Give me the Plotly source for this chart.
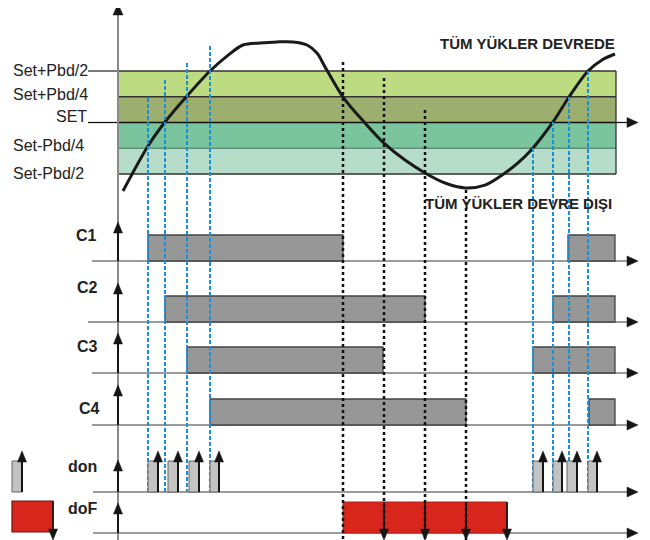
import plotly.graph_objects as go

W, H = 650, 540
OFF = 8  # page body margin: the figure is drawn 8px in from the window corner

# ---------------- data ----------------
level_labels = ["Set+Pbd/2", "Set+Pbd/4", "SET", "Set-Pbd/4", "Set-Pbd/2"]
level_values = [2, 1, 0, -1, -2]          # in Pbd/4 steps around SET

curve_time = [123, 148, 165, 187, 210, 227, 243, 260, 277, 293, 307, 317, 325, 343,
              365, 384, 405, 425, 445, 465, 485, 505, 518, 533, 553, 569, 588, 602, 615]
curve_temp = [-2.66, -0.91, 0.02, 1.03, 2.00, 2.58, 3.01, 3.09, 3.13, 3.13, 3.01, 2.70,
              2.16, 0.99, -0.02, -0.80, -1.46, -1.96, -2.35, -2.54, -2.43, -1.96, -1.57,
              -0.99, 0.02, 0.99, 2.00, 2.43, 2.66]

relay_labels = ["C1", "C2", "C3", "C4"]
c1_on, c1_off = [148, 568], [343, 615]
c2_on, c2_off = [165, 553], [425, 615]
c3_on, c3_off = [187, 533], [383, 615]
c4_on, c4_off = [210, 589], [466, 615]

don_on = [148, 168, 189, 210, 533, 553, 567, 588]
don_off = [158, 178, 199, 219, 543, 562, 577, 597]
dof_on, dof_off = [343], [507]
dof_marks = [384, 425, 466, 507]

guide_black_time = [343, 384, 425, 466]
guide_black_top = [2.35, 1.73, 0.49, -2.62]
guide_blue_time = [148, 165, 187, 210, 533, 553, 569, 588]
guide_blue_top = [0.95, 1.65, 2.31, 2.97, -0.99, 0.02, 0.99, 2.00]

title_on = "TÜM YÜKLER DEVREDE"
title_off = "TÜM YÜKLER DEVRE DIŞI"

# ---------------- layout constants ----------------
AXIS_X, END_X, ARROW_X = 118, 616, 638
SET_PX, PX_PER_UNIT = 122.5, 25.75
T_RANGE = [(SET_PX - H) / PX_PER_UNIT, (SET_PX - OFF) / PX_PER_UNIT]


def t2px(t):
    return SET_PX - t * PX_PER_UNIT


row_base = [261, 322, 373, 425]
row_start = [92, 88, 92, 92]
row_tip = [222, 283, 333, 385]
row_label_xy = [(86, 235), (87, 287), (87, 346), (89, 408)]
C_H = 26
DON_BASE, DON_H = 492, 31
DOF_BASE, DOF_H = 533, 31

band_colors = ["#bddc82", "#9caf6f", "#7ac49e", "#b5ddc9"]
level_line_colors = ["#333333", "#333333", "#111111", "#5f8f78", "#333333"]
BAR_GRAY, BAR_EDGE = "#979797", "#444444"
DON_GRAY = "#c3c3c3"
RED = "#d9261c"
BLUE = "#1a90dc"
BASE_GRAY = "#7a7a7a"
INK = "#151515"
FONT = "Liberation Sans, Arial, sans-serif"

shapes = []
annotations = []


def line(x0, y0, x1, y1, color, width, dash="solid", yref="y2", layer="above"):
    shapes.append(dict(type="line", xref="x", yref=yref, x0=x0, y0=y0, x1=x1, y1=y1,
                       layer=layer, line=dict(color=color, width=width, dash=dash)))


def rect(x0, y0, x1, y1, fill, edge, lw, yref="y2", layer="above"):
    shapes.append(dict(type="rect", xref="x", yref=yref, x0=x0, y0=y0, x1=x1, y1=y1,
                       layer=layer, fillcolor=fill, line=dict(color=edge, width=lw)))


def head(tx, ty, dx, dy, color=INK, L=11, hw=4.5):
    bx, by = tx - dx * L, ty - dy * L
    px, py = -dy, dx
    path = (f"M{tx},{ty} L{bx + px * hw},{by + py * hw} "
            f"L{bx - px * hw},{by - py * hw} Z")
    shapes.append(dict(type="path", xref="x", yref="y2", path=path, layer="above",
                       fillcolor=color, line=dict(color=color, width=0.5)))


def arrow(x0, y0, x1, y1, color=INK, width=2, L=11, hw=4.5):
    d = ((x1 - x0) ** 2 + (y1 - y0) ** 2) ** 0.5
    dx, dy = (x1 - x0) / d, (y1 - y0) / d
    line(x0, y0, x1 - dx * (L - 2), y1 - dy * (L - 2), color, width)
    head(x1, y1, dx, dy, color, L, hw)


def text(x, y, s, size, bold=False, anchor="center", family=FONT, color="#222222"):
    annotations.append(dict(x=x, y=y, xref="x", yref="y2", showarrow=False,
                            text=f"<b>{s}</b>" if bold else s, xanchor=anchor,
                            yanchor="middle", font=dict(size=size, color=color, family=family)))


# ---- temperature bands ----
for i in range(len(level_values) - 1):
    rect(AXIS_X, level_values[i], END_X, level_values[i + 1], band_colors[i],
         "rgba(0,0,0,0)", 0, yref="y", layer="below")
for v, c in zip(level_values, level_line_colors):
    line(AXIS_X, v, END_X, v, c, 1.3, yref="y", layer="below")
line(END_X, level_values[0], END_X, level_values[-1], "#333333", 1.3, yref="y", layer="below")
# label leader lines
line(88, level_values[0], AXIS_X, level_values[0], "#222222", 1.2, yref="y")
line(88, level_values[2], AXIS_X, level_values[2], "#111111", 1.3, yref="y")
# SET axis arrow
arrow(END_X, t2px(level_values[2]), ARROW_X, t2px(level_values[2]), INK, 1.3, 11, 5)

# level labels
label_y = [70, 94, 116, 145, 173]
for lab, yy in zip(level_labels, label_y):
    if lab == "SET":
        text(89, yy, lab, 16, anchor="right")
    else:
        text(11, yy, lab, 16, anchor="left")

# ---- main vertical axis ----
line(AXIS_X, H, AXIS_X, 14, "#8a8a8a", 2)
head(AXIS_X, 4, 0, -1, INK, 11, 5)

# ---- relay rows ----
relays_on = [c1_on, c2_on, c3_on, c4_on]
relays_off = [c1_off, c2_off, c3_off, c4_off]
for k in range(4):
    base = row_base[k]
    line(row_start[k], base, ARROW_X - 9, base, BASE_GRAY, 1.6)
    head(ARROW_X, base, 1, 0, INK, 11, 5)
    for a, b in zip(relays_on[k], relays_off[k]):
        rect(a, base - C_H, b, base, BAR_GRAY, BAR_EDGE, 1.3)

# don / doF baselines
line(93, DON_BASE, ARROW_X - 9, DON_BASE, BASE_GRAY, 1.6)
head(ARROW_X, DON_BASE, 1, 0, INK, 11, 5)
line(93, DOF_BASE, ARROW_X - 9, DOF_BASE, BASE_GRAY, 1.6)
head(ARROW_X, DOF_BASE, 1, 0, INK, 11, 5)

# doF red bar
for a, b in zip(dof_on, dof_off):
    rect(a, DOF_BASE - DOF_H, b, DOF_BASE, RED, "#b21e16", 1)

# ---- guide lines ----
for t, top in zip(guide_black_time, guide_black_top):
    line(t, t2px(top), t, H, "#111111", 2.5, dash="3px,3px")
for t, top in zip(guide_blue_time, guide_blue_top):
    line(t, t2px(top), t, DON_BASE, BLUE, 2, dash="4px,2px")

# don pulses
for a, b in zip(don_on, don_off):
    rect(a, DON_BASE - DON_H, b, DON_BASE, DON_GRAY, "#666666", 1)
    arrow(b, DON_BASE, b, DON_BASE - DON_H - 10, INK, 2, 11, 4.5)

# doF down arrows
for t in dof_marks:
    arrow(t, DOF_BASE - DOF_H, t, H, INK, 1.8, 11, 4.5)

# row axis arrows
for k in range(4):
    arrow(AXIS_X, row_base[k], AXIS_X, row_tip[k], INK, 2, 11, 4.5)
arrow(AXIS_X, DON_BASE, AXIS_X, 460, INK, 2, 11, 4.5)
arrow(AXIS_X, DOF_BASE, AXIS_X, 503, INK, 2, 11, 4.5)

# legend icons
rect(12, DON_BASE - DON_H, 22, DON_BASE, DON_GRAY, "#666666", 1)
arrow(22, DON_BASE, 22, DON_BASE - DON_H - 10, INK, 2, 11, 4.5)
rect(12, DOF_BASE - DOF_H - 1, 53, DOF_BASE - 1, RED, "#6a1510", 1.2)
arrow(53, DOF_BASE - DOF_H - 1, 53, H, INK, 1.6, 11, 4.5)

# ---- texts ----
for lab, (x, y) in zip(relay_labels, row_label_xy):
    text(x, y, lab, 16, bold=True)
text(66, 466, "don", 16, bold=True, anchor="left")
text(66, 508, "doF", 16, bold=True, anchor="left")
text(527, 43, title_on, 15, bold=True)
text(518, 203, title_off, 15, bold=True)

# ---------------- figure ----------------
fig = go.Figure()
fig.add_trace(go.Scatter(x=curve_time, y=curve_temp, mode="lines", yaxis="y",
                         line=dict(color="#1a1a1a", width=3, shape="spline", smoothing=0.9),
                         hoverinfo="skip"))
fig.add_trace(go.Scatter(x=[OFF], y=[OFF], mode="markers", yaxis="y2",
                         marker=dict(opacity=0), hoverinfo="skip"))

fig.update_layout(
    width=W - OFF, height=H - OFF, margin=dict(l=0, r=0, t=0, b=0),
    paper_bgcolor="white", plot_bgcolor="white", showlegend=False,
    xaxis=dict(range=[OFF, W], visible=False, fixedrange=True),
    yaxis=dict(range=T_RANGE, visible=False, fixedrange=True),
    yaxis2=dict(range=[H, OFF], visible=False, overlaying="y", fixedrange=True),
    shapes=shapes, annotations=annotations,
)

fig.write_html("out.html")
